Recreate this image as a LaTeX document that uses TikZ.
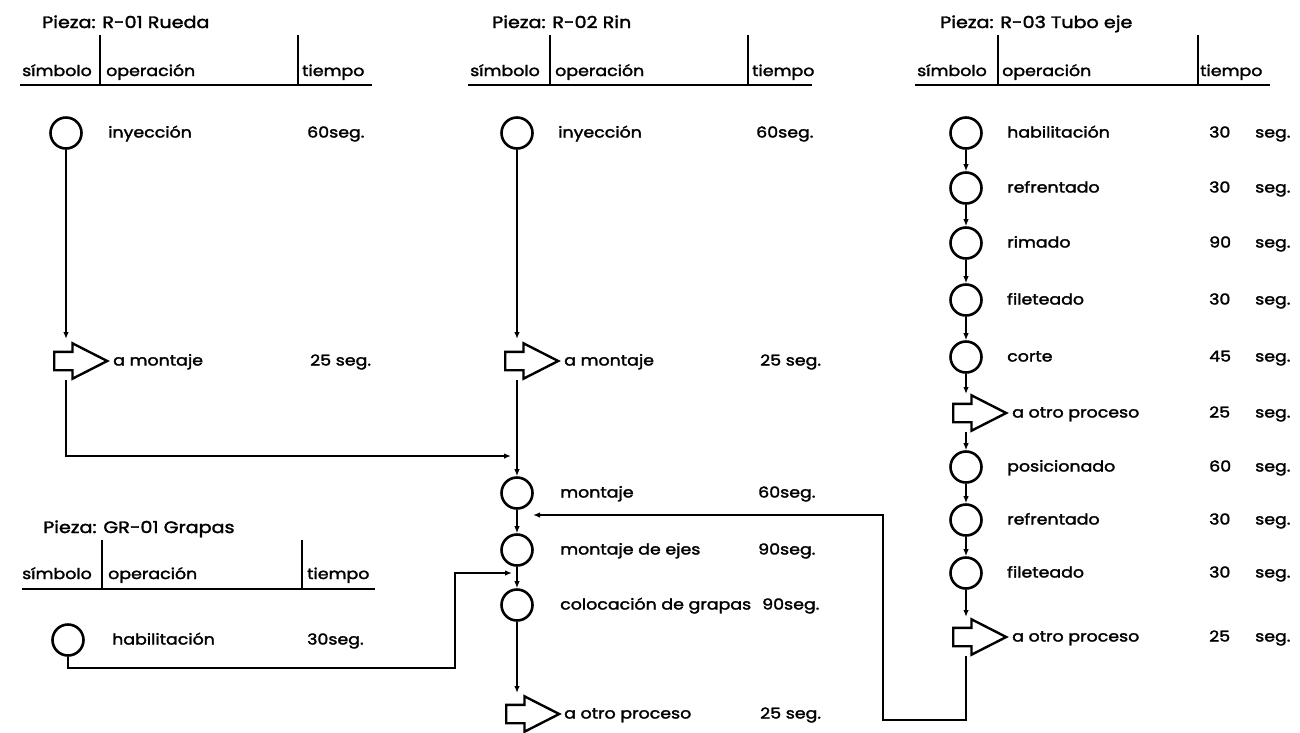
\documentclass[tikz,border=0pt]{standalone}
\usepackage{fontspec}
\setmainfont{Poppins}[FakeStretch=1.16,FakeBold=2]
\usetikzlibrary{shapes.arrows,arrows.meta}
\begin{document}
\begin{tikzpicture}[x=1pt,y=-1pt,
  every node/.style={font=\fontsize{15}{18}\selectfont, inner sep=0pt},
  lbl/.style={anchor=base west},
  ttl/.style={anchor=base west,font=\fontsize{16.5}{19}\selectfont},
  opc/.style={circle,draw,line width=2.6pt,minimum size=31pt,inner sep=0pt},
  trans/.style={single arrow,draw,line width=2.4pt,minimum height=53pt,text height=8pt,text depth=8pt,
    single arrow head extend=8.5pt,single arrow tip angle=54,inner sep=0pt,anchor=tail},
  conn/.style={line width=2.3pt,-{Latex[length=7pt,width=5.5pt]}},
  hdr/.style={line width=2.6pt}]
\useasboundingbox (0,0) rectangle (1300,732);

% ---------------- Panel 1: R-01 Rueda ----------------
\node[ttl] (h1) at (42,28) {Pieza: R-01 Rueda};
\node[lbl] (h1a) at (22,76) {símbolo};
\node[lbl] (h1b) at (106,76) {operación};
\node[lbl] (h1c) at (302,76) {tiempo};
\draw[hdr] (20,85) -- (372,85);
\draw[hdr] (100,35) -- (100,85);
\draw[hdr] (298,35) -- (298,85);

\node[opc] (r1) at (66,133) {};
\node[lbl] (r1t) at (108,137.5) {inyección};
\node[lbl] (r1s) at (307,137.5) {60seg.};
\node[trans] (r2) at (53,361) {};
\node[lbl] (r2t) at (113,365.5) {a montaje};
\node[lbl] (r2s) at (310,365.5) {25 seg.};

% ---------------- Panel 2: R-02 Rin ----------------
\node[ttl] (h2) at (492,28) {Pieza: R-02 Rin};
\node[lbl] (h2a) at (470,76) {símbolo};
\node[lbl] (h2b) at (555,76) {operación};
\node[lbl] (h2c) at (752,76) {tiempo};
\draw[hdr] (468,85) -- (812,85);
\draw[hdr] (550,35) -- (550,85);
\draw[hdr] (748,35) -- (748,85);

\node[opc] (p1) at (517,133) {};
\node[lbl] (p1t) at (558,137.5) {inyección};
\node[lbl] (p1s) at (756,137.5) {60seg.};
\node[trans] (p2) at (504,361) {};
\node[lbl] (p2t) at (564,365.5) {a montaje};
\node[lbl] (p2s) at (760,365.5) {25 seg.};
\node[opc] (p3) at (517,493) {};
\node[lbl] (p3t) at (560,497.5) {montaje};
\node[lbl] (p3s) at (758,497.5) {60seg.};
\node[opc] (p4) at (517,550) {};
\node[lbl] (p4t) at (560,554.5) {montaje de ejes};
\node[lbl] (p4s) at (758,554.5) {90seg.};
\node[opc] (p5) at (517,605) {};
\node[lbl] (p5t) at (560,609.5) {colocación de grapas};
\node[lbl] (p5s) at (762,609.5) {90seg.};
\node[trans] (p6) at (505,714) {};
\node[lbl] (p6t) at (564,718.5) {a otro proceso};
\node[lbl] (p6s) at (760,718.5) {25 seg.};

% ---------------- Panel 3: R-03 Tubo eje ----------------
\node[ttl] (h3) at (940,28) {Pieza: R-03 Tubo eje};
\node[lbl] (h3a) at (917,76) {símbolo};
\node[lbl] (h3b) at (1002,76) {operación};
\node[lbl] (h3c) at (1200,76) {tiempo};
\draw[hdr] (915,85) -- (1270,85);
\draw[hdr] (998,35) -- (998,85);
\draw[hdr] (1198,35) -- (1198,85);

\node[opc] (t1) at (966,133) {};
\node[lbl] at (1007,137.5) {habilitación};
\node[lbl] at (1209,137.5) {\makebox[46pt][l]{30}seg.};
\node[opc] (t2) at (966,188) {};
\node[lbl] at (1007,192.5) {refrentado};
\node[lbl] at (1209,192.5) {\makebox[46pt][l]{30}seg.};
\node[opc] (t3) at (966,243) {};
\node[lbl] at (1007,247.5) {rimado};
\node[lbl] at (1209,247.5) {\makebox[46pt][l]{90}seg.};
\node[opc] (t4) at (966,300) {};
\node[lbl] at (1007,304.5) {fileteado};
\node[lbl] at (1209,304.5) {\makebox[46pt][l]{30}seg.};
\node[opc] (t5) at (966,357) {};
\node[lbl] at (1007,361.5) {corte};
\node[lbl] at (1209,361.5) {\makebox[46pt][l]{45}seg.};
\node[trans] (t6) at (952,413) {};
\node[lbl] at (1012,417.5) {a otro proceso};
\node[lbl] at (1209,417.5) {\makebox[46pt][l]{25}seg.};
\node[opc] (t7) at (966,467) {};
\node[lbl] at (1007,471.5) {posicionado};
\node[lbl] at (1209,471.5) {\makebox[46pt][l]{60}seg.};
\node[opc] (t8) at (966,520) {};
\node[lbl] at (1007,524.5) {refrentado};
\node[lbl] at (1209,524.5) {\makebox[46pt][l]{30}seg.};
\node[opc] (t9) at (966,573) {};
\node[lbl] at (1007,577.5) {fileteado};
\node[lbl] at (1209,577.5) {\makebox[46pt][l]{30}seg.};
\node[trans] (t10) at (952,637) {};
\node[lbl] at (1012,641.5) {a otro proceso};
\node[lbl] at (1209,641.5) {\makebox[46pt][l]{25}seg.};

% ---------------- Panel 4: GR-01 Grapas ----------------
\node[ttl] (h4) at (43,533) {Pieza: GR-01 Grapas};
\node[lbl] (h4a) at (22,579) {símbolo};
\node[lbl] (h4b) at (108,579) {operación};
\node[lbl] (h4c) at (307,579) {tiempo};
\draw[hdr] (22,589) -- (375,589);
\draw[hdr] (102,540) -- (102,589);
\draw[hdr] (302,540) -- (302,589);

\node[opc] (g1) at (68,640) {};
\node[lbl] (g1t) at (112,644.5) {habilitación};
\node[lbl] (g1s) at (307,644.5) {30seg.};

% ---------------- junction coordinates ----------------
\coordinate (j1) at (511,456);
\coordinate (j2) at (512,573);
\coordinate (j3) at (533,515);
\coordinate (k1) at (883,720);
\coordinate (k2) at (455,668);

% ---------------- connectors ----------------
\draw[conn, shorten >=22pt] (r1) -- (r1 |- r2.tail);
\draw[conn, shorten <=19pt] (r1 |- r2.tail) |- (j1);

\draw[conn, shorten >=22pt] (p1) -- (p1 |- p2.tail);
\draw[conn, shorten <=19pt] (p1 |- p2.tail) -- (p3);
\draw[conn] (p3) -- (p4);
\draw[conn] (p4) -- (p5);
\draw[conn, shorten >=21pt] (p5) -- (p5 |- p6.tail);

\draw[conn] (t1) -- (t2);
\draw[conn] (t2) -- (t3);
\draw[conn] (t3) -- (t4);
\draw[conn] (t4) -- (t5);
\draw[conn, shorten >=19pt] (t5) -- (t5 |- t6.tail);
\draw[conn, shorten <=19pt] (t5 |- t6.tail) -- (t7);
\draw[conn] (t7) -- (t8);
\draw[conn] (t8) -- (t9);
\draw[conn, shorten >=20pt] (t9) -- (t9 |- t10.tail);
\draw[conn, shorten <=19pt] (t9 |- t10.tail) |- (k1) |- (j3);

\draw[conn] (g1) |- (k2) |- (j2);
\end{tikzpicture}
\end{document}
